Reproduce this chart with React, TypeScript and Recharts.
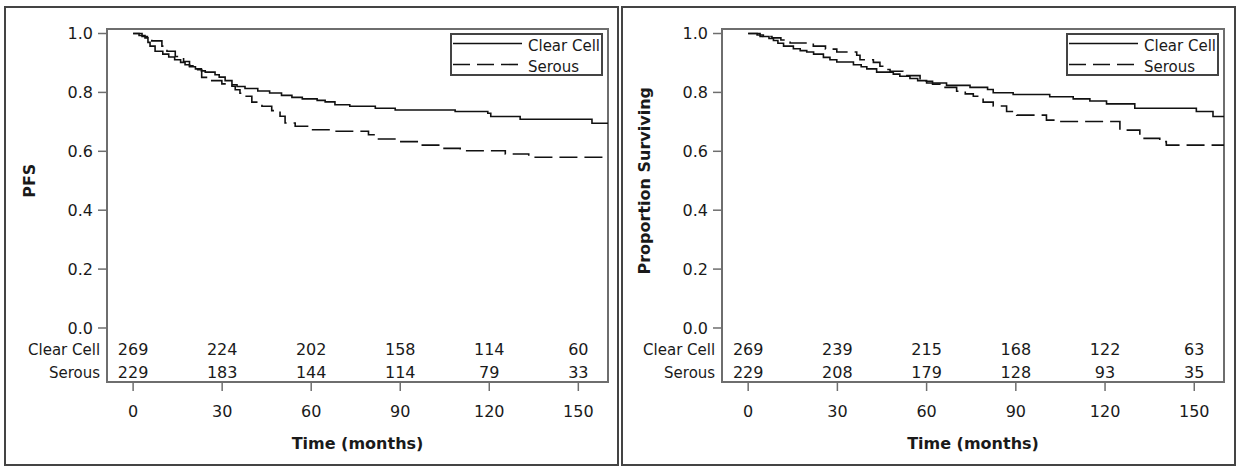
import React from 'react';
import { LineChart, Line, XAxis, YAxis, ReferenceArea, Legend } from 'recharts';

// ---------- data ----------
const timeTicks = [0, 30, 60, 90, 120, 150];
const survTicks = [0, 0.2, 0.4, 0.6, 0.8, 1.0];
const seriesNames = ['Clear Cell', 'Serous'];

// Left panel: PFS
const pfsClearTime = [0, 2, 4, 5, 5.7, 7.4, 10, 12, 14, 16, 17.5, 19, 21, 23, 24.3, 27.6, 29, 31, 33.3, 35, 37.7, 42, 46, 50, 53.5, 57, 62, 64.7, 68, 73, 81.6, 88.3, 108.5, 119.5, 120.5, 130.4, 154.6, 160];
const pfsClearSurv = [1.0, 0.993, 0.985, 0.97, 0.957, 0.94, 0.93, 0.92, 0.911, 0.902, 0.894, 0.887, 0.88, 0.873, 0.869, 0.86, 0.852, 0.84, 0.826, 0.82, 0.813, 0.805, 0.798, 0.79, 0.783, 0.778, 0.773, 0.768, 0.758, 0.753, 0.746, 0.74, 0.735, 0.729, 0.718, 0.709, 0.695, 0.695];
const pfsSerousTime = [0, 3, 6.3, 9.7, 11.4, 14.2, 17, 19, 21, 23.1, 26.5, 29.9, 33.3, 34.4, 36, 37.2, 40, 43.4, 46.7, 49.5, 51.2, 54.6, 59.1, 66, 79.3, 81.6, 89.4, 96.2, 104, 110.2, 125.4, 133.3, 160];
const pfsSerousSurv = [1.0, 0.99, 0.975, 0.957, 0.94, 0.922, 0.905, 0.89, 0.877, 0.851, 0.84, 0.829, 0.821, 0.809, 0.797, 0.787, 0.767, 0.753, 0.738, 0.719, 0.696, 0.685, 0.673, 0.668, 0.656, 0.642, 0.633, 0.621, 0.61, 0.602, 0.591, 0.58, 0.58];
const pfsClearAtRisk = [269, 224, 202, 158, 114, 60];
const pfsSerousAtRisk = [229, 183, 144, 114, 79, 33];

// Right panel: overall survival
const osClearTime = [0, 3, 5.1, 7, 8.5, 10, 11.9, 15.2, 17.5, 19.7, 22, 25.3, 27.5, 29.8, 35.4, 38, 39.9, 43.2, 48.8, 51, 54.4, 57, 60, 66.7, 74.6, 80.5, 82.4, 89.1, 101.4, 109.3, 114.9, 120.5, 130, 150.7, 156.3, 160];
const osClearSurv = [1.0, 0.995, 0.99, 0.983, 0.976, 0.967, 0.957, 0.948, 0.942, 0.937, 0.93, 0.919, 0.911, 0.903, 0.894, 0.887, 0.88, 0.869, 0.862, 0.855, 0.847, 0.84, 0.832, 0.824, 0.817, 0.81, 0.799, 0.793, 0.785, 0.778, 0.771, 0.761, 0.746, 0.735, 0.718, 0.718];
const osSerousTime = [0, 4, 8, 11, 14.1, 21.9, 26, 29.8, 36.5, 37.6, 42.1, 44.3, 46, 47.7, 52, 57.8, 62, 64.5, 70.1, 73, 75.7, 79, 82.4, 86.9, 90.3, 100.3, 104.8, 125, 131.7, 138.4, 140.6, 160];
const osSerousSurv = [1.0, 0.99, 0.985, 0.978, 0.968, 0.957, 0.947, 0.937, 0.926, 0.911, 0.902, 0.889, 0.878, 0.872, 0.857, 0.838, 0.828, 0.817, 0.804, 0.795, 0.787, 0.767, 0.754, 0.735, 0.723, 0.706, 0.701, 0.672, 0.644, 0.633, 0.621, 0.621];
const osClearAtRisk = [269, 239, 215, 168, 122, 63];
const osSerousAtRisk = [229, 208, 179, 128, 93, 35];

// ---------- layout constants ----------
const X_MIN = -8.8;
const X_MAX = 160;
const Y_MIN = -0.1834;
const Y_MAX = 1.0153;
const W = 613;
const H = 458;
const Y_AXIS_W = 60;
const X_AXIS_H = 60;
const FONT = '"DejaVu Sans", Verdana, sans-serif';
const TEXT = '#1a1a1a';
const AXIS = '#6e6e6e';
const LINE = '#111';

const toPoints = (times: number[], survs: number[]) => times.map((t, i) => ({ t, s: survs[i] }));

type PanelProps = {
  left: number;
  plotLeft: number;
  plotRight: number;
  yTitle: string;
  clearT: number[];
  clearS: number[];
  serousT: number[];
  serousS: number[];
  clearRisk: number[];
  serousRisk: number[];
};

function LegendBox() {
  return (
    <svg width={153} height={43} style={{ display: 'block', fontFamily: FONT }}>
      <rect x={1} y={1} width={151} height={41} fill="#fff" stroke="#444" strokeWidth={2} />
      <line x1={3} x2={72} y1={10.5} y2={10.5} stroke={LINE} strokeWidth={1.6} />
      <text x={78} y={17.5} fontSize={15} fill={TEXT}>{seriesNames[0]}</text>
      <line x1={3} x2={72} y1={31.5} y2={31.5} stroke={LINE} strokeWidth={1.6} strokeDasharray="17 7" />
      <text x={78} y={38.5} fontSize={15} fill={TEXT}>{seriesNames[1]}</text>
    </svg>
  );
}

function Panel(p: PanelProps) {
  const margin = { top: 22, right: W - p.plotRight, bottom: H - 22 - 353 - X_AXIS_H, left: p.plotLeft - Y_AXIS_W };
  const clearData = toPoints(p.clearT, p.clearS);
  const serousData = toPoints(p.serousT, p.serousS);

  const renderTick = (props: any) => {
    const { x, y, payload } = props;
    const i = timeTicks.indexOf(payload.value);
    return (
      <g fontFamily={FONT}>
        <text x={x} y={y - 36.5} textAnchor="middle" fontSize={16} fill={TEXT}>{p.clearRisk[i]}</text>
        <text x={x} y={y - 13.5} textAnchor="middle" fontSize={16} fill={TEXT}>{p.serousRisk[i]}</text>
        <text x={x} y={y + 25.5} textAnchor="middle" fontSize={16} fill={TEXT}>{payload.value}</text>
        {i === 0 && (
          <>
            <text x={x - 33} y={y - 36.5} textAnchor="end" fontSize={15} fill={TEXT}>{seriesNames[0]}</text>
            <text x={x - 33} y={y - 13.5} textAnchor="end" fontSize={15} fill={TEXT}>{seriesNames[1]}</text>
          </>
        )}
      </g>
    );
  };

  const renderXTitle = (props: any) => {
    const vb = props.viewBox || { x: margin.left + Y_AXIS_W, y: 375, width: p.plotRight - p.plotLeft, height: X_AXIS_H };
    return (
      <text x={vb.x + vb.width / 2} y={vb.y + 67} textAnchor="middle" fontSize={16} fontWeight="bold" fill={TEXT} fontFamily={FONT}>
        Time (months)
      </text>
    );
  };

  const renderYTitle = (props: any) => {
    const vb = props.viewBox || { x: margin.left, y: 22, width: Y_AXIS_W, height: 353 };
    const cy = vb.y + vb.height * ((Y_MAX - 0.5) / (Y_MAX - Y_MIN));
    const cx = vb.x - 17 + 5.5;
    return (
      <text x={cx} y={cy} transform={`rotate(-90, ${cx}, ${cy})`} textAnchor="middle" fontSize={16} fontWeight="bold" fill={TEXT} fontFamily={FONT}>
        {p.yTitle}
      </text>
    );
  };

  return (
    <div style={{ position: 'absolute', left: p.left, top: 7, width: W, height: H }}>
      <LineChart width={W} height={H} margin={margin} style={{ fontFamily: FONT }}>
        <XAxis
          type="number"
          dataKey="t"
          domain={[X_MIN, X_MAX]}
          ticks={timeTicks}
          allowDataOverflow
          height={X_AXIS_H}
          axisLine={false}
          tickLine={{ stroke: AXIS, strokeWidth: 1.5 }}
          tickSize={9}
          tickMargin={0}
          tick={renderTick}
          label={renderXTitle}
        />
        <YAxis
          type="number"
          domain={[Y_MIN, Y_MAX]}
          ticks={survTicks}
          allowDataOverflow
          width={Y_AXIS_W}
          axisLine={false}
          tickLine={{ stroke: AXIS, strokeWidth: 1.5 }}
          tickSize={9}
          tickMargin={5}
          tickFormatter={(v: number) => v.toFixed(1)}
          tick={{ fill: TEXT, fontSize: 16, fontFamily: FONT }}
          label={renderYTitle}
        />
        <ReferenceArea x1={X_MIN} x2={X_MAX} y1={Y_MIN} y2={Y_MAX} fill="none" fillOpacity={0} stroke={AXIS} strokeWidth={2} />
        <Line data={clearData} dataKey="s" name={seriesNames[0]} type="stepAfter" stroke={LINE} strokeWidth={1.6} dot={false} activeDot={false} isAnimationActive={false} />
        <Line data={serousData} dataKey="s" name={seriesNames[1]} type="stepAfter" stroke={LINE} strokeWidth={1.6} strokeDasharray="18 7" dot={false} activeDot={false} isAnimationActive={false} />
        <Legend
          layout="horizontal"
          verticalAlign="middle"
          align="center"
          wrapperStyle={{ left: p.plotRight - 158, top: 26, width: 153, height: 43 }}
          content={() => <LegendBox />}
        />
      </LineChart>
      <div style={{ position: 'absolute', left: -1, top: -1, width: W + 2, height: H + 2, boxSizing: 'border-box', border: '2px solid #444', pointerEvents: 'none' }} />
    </div>
  );
}

export default function App() {
  return (
    <div style={{ position: 'absolute', left: 0, top: 0, width: 1243, height: 468, background: '#fff' }}>
      <Panel
        left={5}
        plotLeft={102}
        plotRight={603}
        yTitle="PFS"
        clearT={pfsClearTime}
        clearS={pfsClearSurv}
        serousT={pfsSerousTime}
        serousS={pfsSerousSurv}
        clearRisk={pfsClearAtRisk}
        serousRisk={pfsSerousAtRisk}
      />
      <Panel
        left={622}
        plotLeft={100}
        plotRight={602}
        yTitle="Proportion Surviving"
        clearT={osClearTime}
        clearS={osClearSurv}
        serousT={osSerousTime}
        serousS={osSerousSurv}
        clearRisk={osClearAtRisk}
        serousRisk={osSerousAtRisk}
      />
    </div>
  );
}
